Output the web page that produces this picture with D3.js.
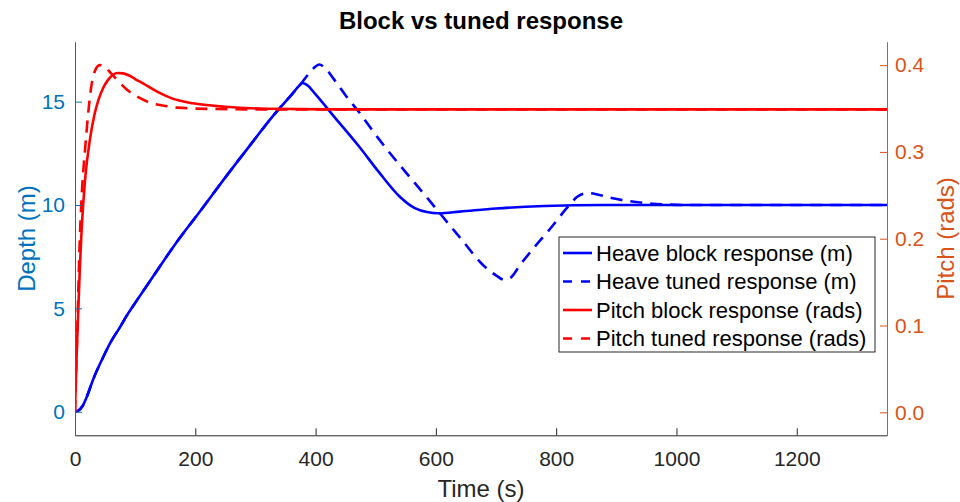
<!DOCTYPE html>
<html>
<head>
<meta charset="utf-8">
<script src="https://cdn.jsdelivr.net/npm/d3@7"></script>
<style>
  body { margin: 0; background: #fff; }
  text { font-family: "Liberation Sans", Arial, sans-serif; }
</style>
</head>
<body>
<div id="chart"></div>
<script>
// time axis ticks
var timeTicks = [0, 200, 400, 600, 800, 1000, 1200];
var depthTicks = [0, 5, 10, 15];
var pitchTicks = [0, 0.1, 0.2, 0.3, 0.4];

// heave (depth, m)
var heaveBlockT = [0, 5, 12, 20, 30, 47, 60, 75, 86, 102, 130, 166, 208, 249, 290, 331, 362, 372, 378, 386, 400, 430, 472, 505, 540, 565, 585, 605, 640, 700, 780, 880, 1350];
var heaveBlockV = [0, 0.04, 0.25, 0.75, 1.55, 2.65, 3.4, 4.1, 4.65, 5.35, 6.55, 8.08, 9.7, 11.3, 12.85, 14.37, 15.4, 15.75, 15.9, 15.8, 15.35, 14.3, 12.84, 11.6, 10.4, 9.85, 9.66, 9.6, 9.68, 9.83, 9.95, 10.0, 10.0];

var heaveTunedT = [0, 5, 12, 20, 30, 47, 60, 75, 86, 102, 130, 166, 208, 249, 290, 331, 362, 378, 390, 400, 406, 415, 430, 450, 472, 505, 588, 643, 680, 700, 714, 725, 740, 765, 790, 820, 835, 852, 870, 892, 936, 980, 1020, 1350];
var heaveTunedV = [0, 0.04, 0.25, 0.75, 1.55, 2.65, 3.4, 4.1, 4.65, 5.35, 6.55, 8.08, 9.7, 11.3, 12.85, 14.37, 15.4, 15.95, 16.4, 16.7, 16.8, 16.65, 16.1, 15.3, 14.5, 13.2, 10.26, 8.32, 7.05, 6.6, 6.38, 6.5, 7.1, 8.0, 8.85, 9.93, 10.4, 10.58, 10.5, 10.34, 10.13, 10.03, 10.0, 10.0];

// pitch (rads)
var pitchBlockT = [0, 2, 5, 8, 11, 17, 25, 32, 39, 47, 55, 63, 71, 80, 90, 100, 113, 135, 160, 196, 250, 320, 450, 1350];
var pitchBlockV = [0, 0.05, 0.11, 0.165, 0.21, 0.27, 0.315, 0.342, 0.36, 0.374, 0.383, 0.389, 0.391, 0.3905, 0.388, 0.384, 0.379, 0.37, 0.362, 0.356, 0.352, 0.3498, 0.349, 0.349];

var pitchTunedT = [0, 2, 4, 8, 12, 17, 22, 27, 33, 41, 50, 58, 70, 86, 105, 124, 150, 170, 224, 300, 1350];
var pitchTunedV = [0, 0.05, 0.1, 0.2, 0.26, 0.305, 0.345, 0.375, 0.393, 0.4, 0.398, 0.392, 0.383, 0.372, 0.363, 0.357, 0.353, 0.351, 0.3495, 0.349, 0.349];

var seriesNames = ['Heave block response (m)', 'Heave tuned response (m)', 'Pitch block response (rads)', 'Pitch tuned response (rads)'];

(function() {
  var width = 960, height = 502;
  var mLeft = 75, mRight = 887, mTop = 41.7, mBottom = 435.3;
  var blueAxis = '#0072BD', orangeAxis = '#D95319', grey = '#262626';
  var font = '"Liberation Sans", Arial, sans-serif';

  var x = d3.scaleLinear().domain([0, 1350]).range([mLeft, mRight]);
  var yL = d3.scaleLinear().domain([-1.14, 17.9]).range([mBottom, mTop]);
  var yR = d3.scaleLinear().domain([-0.0265, 0.427]).range([mBottom, mTop]);

  var svg = d3.select('#chart').append('svg')
    .attr('width', width)
    .attr('height', height)
    .style('background', '#fff');

  svg.append('clipPath').attr('id', 'plotclip')
    .append('rect')
    .attr('x', mLeft).attr('y', mTop)
    .attr('width', mRight - mLeft).attr('height', mBottom - mTop);

  function zip(ts, vs) {
    return ts.map(function(t, i) { return [t, vs[i]]; });
  }

  var series = [
    {data: zip(heaveBlockT, heaveBlockV), y: yL, color: '#0000FF', dash: null},
    {data: zip(heaveTunedT, heaveTunedV), y: yL, color: '#0000FF', dash: '12,8'},
    {data: zip(pitchBlockT, pitchBlockV), y: yR, color: '#FF0000', dash: null},
    {data: zip(pitchTunedT, pitchTunedV), y: yR, color: '#FF0000', dash: '12,8'}
  ];

  var plot = svg.append('g').attr('clip-path', 'url(#plotclip)');
  series.forEach(function(s) {
    var line = d3.line()
      .x(function(d) { return x(d[0]); })
      .y(function(d) { return s.y(d[1]); })
      .curve(d3.curveMonotoneX);
    plot.append('path')
      .datum(s.data)
      .attr('d', line)
      .attr('fill', 'none')
      .attr('stroke', s.color)
      .attr('stroke-width', 2.6)
      .attr('stroke-dasharray', s.dash)
      .attr('stroke-linejoin', 'round');
  });

  // axes
  var xAxis = svg.append('g')
    .attr('transform', 'translate(0,' + mBottom + ')')
    .call(d3.axisBottom(x).tickValues(timeTicks).tickFormat(d3.format('d'))
      .tickSizeInner(-7).tickSizeOuter(0).tickPadding(16));
  xAxis.select('.domain').attr('stroke', grey);
  xAxis.selectAll('.tick line').attr('stroke', grey);
  xAxis.selectAll('.tick text').attr('fill', grey)
    .style('font-size', '21px').style('font-family', font);

  var lAxis = svg.append('g')
    .attr('transform', 'translate(' + mLeft + ',0)')
    .call(d3.axisLeft(yL).tickValues(depthTicks).tickFormat(d3.format('d'))
      .tickSizeInner(-7).tickSizeOuter(0).tickPadding(10));
  lAxis.select('.domain').attr('stroke', blueAxis);
  lAxis.selectAll('.tick line').attr('stroke', blueAxis);
  lAxis.selectAll('.tick text').attr('fill', blueAxis)
    .style('font-size', '21px').style('font-family', font);

  var rAxis = svg.append('g')
    .attr('transform', 'translate(' + mRight + ',0)')
    .call(d3.axisRight(yR).tickValues(pitchTicks).tickFormat(d3.format('.1f'))
      .tickSizeInner(-7).tickSizeOuter(0).tickPadding(8));
  rAxis.select('.domain').attr('stroke', orangeAxis);
  rAxis.selectAll('.tick line').attr('stroke', orangeAxis);
  rAxis.selectAll('.tick text').attr('fill', orangeAxis)
    .style('font-size', '21px').style('font-family', font);

  // labels
  svg.append('text')
    .attr('x', (mLeft + mRight) / 2).attr('y', 29)
    .attr('text-anchor', 'middle')
    .style('font-size', '24px').style('font-weight', 'bold')
    .attr('fill', '#000')
    .text('Block vs tuned response');

  svg.append('text')
    .attr('x', (mLeft + mRight) / 2).attr('y', 497)
    .attr('text-anchor', 'middle')
    .style('font-size', '24px')
    .attr('fill', grey)
    .text('Time (s)');

  svg.append('text')
    .attr('transform', 'translate(35,' + (mTop + mBottom) / 2 + ') rotate(-90)')
    .attr('text-anchor', 'middle')
    .style('font-size', '24px')
    .attr('fill', blueAxis)
    .text('Depth (m)');

  svg.append('text')
    .attr('transform', 'translate(954,' + (mTop + mBottom) / 2 + ') rotate(-90)')
    .attr('text-anchor', 'middle')
    .style('font-size', '24px')
    .attr('fill', orangeAxis)
    .text('Pitch (rads)');

  // legend
  var legend = svg.append('g').attr('transform', 'translate(559,237)');
  legend.append('rect')
    .attr('width', 316).attr('height', 115)
    .attr('fill', '#fff')
    .attr('stroke', grey).attr('stroke-width', 1);

  var rows = legend.selectAll('g.row').data(series).enter().append('g')
    .attr('class', 'row')
    .attr('transform', function(d, i) { return 'translate(0,' + (16 + i * 28.5) + ')'; });
  rows.append('line')
    .attr('x1', 4).attr('x2', 33)
    .attr('stroke', function(d) { return d.color; })
    .attr('stroke-width', 2.6)
    .attr('stroke-dasharray', function(d) { return d.dash ? '9,9' : null; });
  rows.append('text')
    .attr('x', 37).attr('dy', '0.36em')
    .style('font-size', '22px')
    .attr('fill', '#000')
    .text(function(d, i) { return seriesNames[i]; });
})();
</script>
</body>
</html>
